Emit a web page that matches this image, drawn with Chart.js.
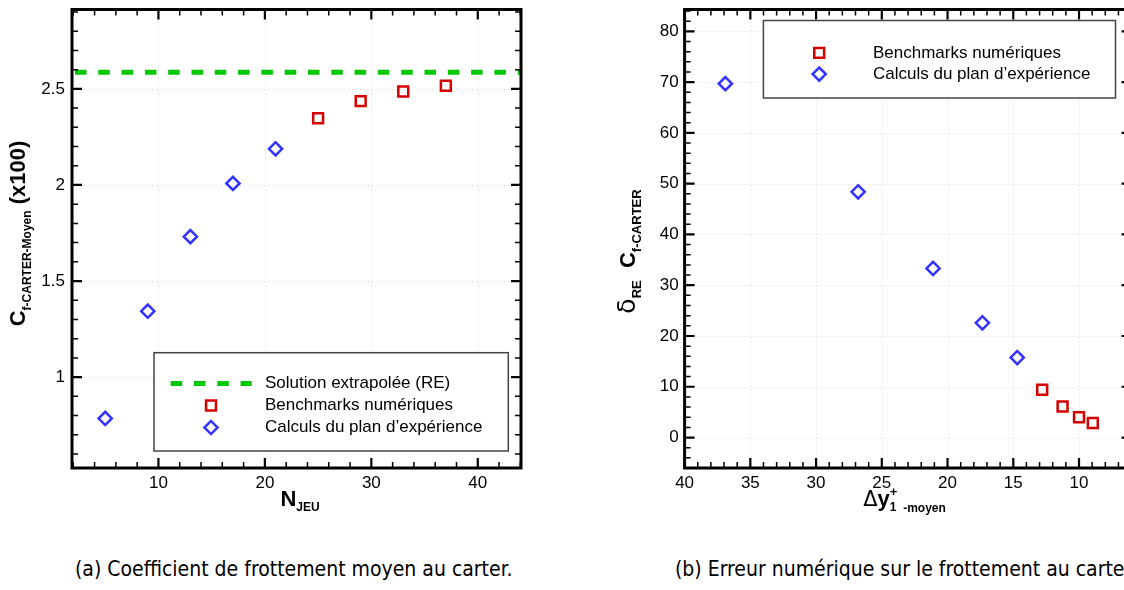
<!DOCTYPE html>
<html>
<head>
<meta charset="utf-8">
<script src="https://cdn.jsdelivr.net/npm/chart.js@4.4.1/dist/chart.umd.min.js"></script>
<style>
  html, body { margin: 0; padding: 0; background: #fff; }
  body { width: 1124px; height: 590px; overflow: hidden; position: relative; }
  canvas { position: absolute; top: 0; }
  #chartA { left: 0; }
  #chartB { left: 600px; }
  .caption { position: absolute; top: 557px; font-family: "DejaVu Sans Condensed", "Liberation Sans Narrow", "Liberation Sans", sans-serif; font-size: 21px; line-height: 25px; white-space: nowrap; color: #000; }
</style>
</head>
<body>
<canvas id="chartA" width="560" height="530"></canvas>
<canvas id="chartB" width="560" height="530"></canvas>
<div class="caption" style="left:75px">(a) Coefficient de frottement moyen au carter.</div>
<div class="caption" style="left:675px">(b) Erreur numérique sur le frottement au carter.</div>
<script>
// (a) coefficient de frottement moyen
var nJeuCalc = [5, 9, 13, 17, 21];
var cfCalc = [0.785, 1.343, 1.731, 2.008, 2.188];
var nJeuBench = [25, 29, 33, 37];
var cfBench = [2.347, 2.436, 2.486, 2.516];
var cfRE = 2.587;
var xTicksA = [10, 20, 30, 40];
var yTicksA = [1, 1.5, 2, 2.5];

// (b) erreur numerique
var dyCalc = [36.9, 26.8, 21.1, 17.35, 14.7];
var errCalc = [69.7, 48.4, 33.3, 22.6, 15.75];
var dyBench = [12.8, 11.25, 10.0, 8.95];
var errBench = [9.4, 6.1, 4.0, 2.85];
var xTicksB = [10, 15, 20, 25, 30, 35, 40];
var yTicksB = [0, 10, 20, 30, 40, 50, 60, 70, 80];

var FONT = 'Liberation Sans';
var RED = '#d40000', BLUE = '#3333ff', GREEN = '#00c800';

Chart.defaults.font.family = FONT;
Chart.defaults.font.size = 17;
Chart.defaults.color = '#000';

function toPoints(xs, ys) {
  return xs.map(function(x, i) { return {x: x, y: ys[i]}; });
}

function fixedTicks(list) {
  return function(scale) {
    scale.ticks = list.map(function(v) { return {value: v}; });
  };
}

// fixed axis size, and no extra room for the end labels
function fixedSize(size) {
  return function(s) {
    if (s.isHorizontal()) s.height = size; else s.width = size;
    s.paddingTop = s.paddingBottom = s.paddingLeft = s.paddingRight = 0;
  };
}

// dotted grid, thick frame and inward ticks on all four sides
function framePlugin(xMinor, yMinor) {
  return {
    id: 'frame',
    beforeDatasetsDraw: function(chart) {
      var ctx = chart.ctx, a = chart.chartArea, sx = chart.scales.x, sy = chart.scales.y;
      ctx.save();
      ctx.strokeStyle = '#d6d6d6';
      ctx.lineWidth = 1;
      ctx.setLineDash([1, 3]);
      sx.ticks.forEach(function(t) {
        var p = Math.round(sx.getPixelForValue(t.value)) + 0.5;
        ctx.beginPath(); ctx.moveTo(p, a.top); ctx.lineTo(p, a.bottom); ctx.stroke();
      });
      sy.ticks.forEach(function(t) {
        var p = Math.round(sy.getPixelForValue(t.value)) + 0.5;
        ctx.beginPath(); ctx.moveTo(a.left, p); ctx.lineTo(a.right, p); ctx.stroke();
      });
      ctx.restore();
    },
    afterDatasetsDraw: function(chart) {
      var ctx = chart.ctx, a = chart.chartArea, sx = chart.scales.x, sy = chart.scales.y;
      function isMajor(scale, v) {
        return scale.ticks.some(function(t) { return Math.abs(t.value - v) < 1e-6; });
      }
      ctx.save();
      ctx.strokeStyle = '#000';
      var k, v, p, len;
      for (k = Math.ceil(sx.min / xMinor - 1e-9); k * xMinor <= sx.max + 1e-9; k++) {
        v = k * xMinor;
        p = sx.getPixelForValue(v);
        len = isMajor(sx, v) ? 10 : 6;
        ctx.lineWidth = isMajor(sx, v) ? 2.2 : 1.5;
        ctx.beginPath();
        ctx.moveTo(p, a.bottom); ctx.lineTo(p, a.bottom - len);
        ctx.moveTo(p, a.top); ctx.lineTo(p, a.top + len);
        ctx.stroke();
      }
      for (k = Math.ceil(sy.min / yMinor - 1e-9); k * yMinor <= sy.max + 1e-9; k++) {
        v = k * yMinor;
        p = sy.getPixelForValue(v);
        len = isMajor(sy, v) ? 10 : 6;
        ctx.lineWidth = isMajor(sy, v) ? 2.2 : 1.5;
        ctx.beginPath();
        ctx.moveTo(a.left, p); ctx.lineTo(a.left + len, p);
        ctx.moveTo(a.right, p); ctx.lineTo(a.right - len, p);
        ctx.stroke();
      }
      ctx.lineWidth = 3;
      ctx.strokeRect(a.left, a.top, a.right - a.left, a.bottom - a.top);
      ctx.restore();
    }
  };
}

// boxed legend placed inside the plot
function legendPlugin(box) {
  return {
    id: 'boxLegend',
    afterDraw: function(chart) {
      var ctx = chart.ctx;
      ctx.save();
      ctx.fillStyle = '#fff';
      ctx.fillRect(box.x, box.y, box.w, box.h);
      ctx.strokeStyle = '#444';
      ctx.lineWidth = 1.5;
      ctx.strokeRect(box.x, box.y, box.w, box.h);
      ctx.font = '17px ' + FONT;
      ctx.textBaseline = 'middle';
      ctx.textAlign = 'left';
      chart.data.datasets.forEach(function(ds, i) {
        var y = box.row0 + i * box.rowGap;
        ctx.strokeStyle = ds.borderColor;
        ctx.lineWidth = ds.borderWidth;
        if (ds.showLine) {
          ctx.setLineDash(ds.borderDash);
          ctx.beginPath(); ctx.moveTo(box.lineX0, y); ctx.lineTo(box.lineX1, y); ctx.stroke();
          ctx.setLineDash([]);
        } else {
          ctx.fillStyle = 'rgba(0,0,0,0)';
          Chart.helpers.drawPoint(ctx, {pointStyle: ds.pointStyle, radius: ds.pointRadius, rotation: 0, borderWidth: ds.borderWidth}, box.markX, y);
        }
        ctx.fillStyle = '#000';
        ctx.fillText(ds.label, box.textX, y);
      });
      ctx.restore();
    }
  };
}

function drawRich(ctx, parts, x, y) {
  var w = 0;
  parts.forEach(function(p) {
    ctx.font = p.font;
    p.w = p.keep ? 0 : ctx.measureText(p.t).width;
    w += p.w;
  });
  var cx = x - w / 2;
  parts.forEach(function(p) {
    ctx.font = p.font;
    ctx.fillText(p.t, cx, y + (p.dy || 0));
    cx += p.w;
  });
}

function titlesPlugin(xt, yt) {
  return {
    id: 'titles',
    afterDraw: function(chart) {
      var ctx = chart.ctx;
      ctx.save();
      ctx.fillStyle = '#000';
      ctx.textBaseline = 'alphabetic';
      ctx.textAlign = 'left';
      drawRich(ctx, xt.parts, xt.x, xt.y);
      ctx.translate(yt.x, yt.y);
      ctx.rotate(-Math.PI / 2);
      drawRich(ctx, yt.parts, 0, 0);
      ctx.restore();
    }
  };
}

var B22 = 'bold 22px ' + FONT, B12 = 'bold 12px ' + FONT, B13 = 'bold 13px ' + FONT;

// Chart (a)
new Chart(document.getElementById('chartA'), {
  type: 'scatter',
  data: {
    datasets: [
      {
        label: 'Solution extrapolée (RE)',
        data: [{x: 1.88, y: cfRE}, {x: 44.06, y: cfRE}],
        showLine: true,
        borderColor: GREEN,
        borderWidth: 5,
        borderDash: [11.5, 11.8],
        borderDashOffset: 20.3,
        pointRadius: 0
      },
      {
        label: 'Benchmarks numériques',
        data: toPoints(nJeuBench, cfBench),
        pointStyle: 'rect',
        pointRadius: 7,
        borderWidth: 2.5,
        borderColor: RED,
        backgroundColor: 'rgba(0,0,0,0)'
      },
      {
        label: 'Calculs du plan d’expérience',
        data: toPoints(nJeuCalc, cfCalc),
        pointStyle: 'rectRot',
        pointRadius: 6.6,
        borderWidth: 2.5,
        borderColor: BLUE,
        backgroundColor: 'rgba(0,0,0,0)'
      }
    ]
  },
  options: {
    responsive: false,
    animation: false,
    events: [],
    layout: { padding: {left: 0, top: 7.5, right: 39, bottom: 0} },
    plugins: { legend: {display: false}, tooltip: {enabled: false} },
    scales: {
      x: {
        type: 'linear', min: 1.88, max: 44.06,
        grid: {display: false, drawTicks: false},
        border: {display: false},
        ticks: {padding: 5, callback: function(v) { return String(v); }},
        afterBuildTicks: fixedTicks(xTicksA),
        afterFit: fixedSize(62)
      },
      y: {
        type: 'linear', min: 0.527, max: 2.913,
        grid: {display: false, drawTicks: false},
        border: {display: false},
        ticks: {padding: 7, callback: function(v) { return String(v); }},
        afterBuildTicks: fixedTicks(yTicksA),
        afterFit: fixedSize(72)
      }
    }
  },
  plugins: [
    framePlugin(2, 0.1),
    legendPlugin({x: 154, y: 352.7, w: 354.3, h: 98.3, row0: 383.5, rowGap: 22, lineX0: 170.7, lineX1: 251.7, markX: 211, textX: 265}),
    titlesPlugin(
      {x: 300, y: 506, parts: [{t: 'N', font: B22}, {t: 'JEU', font: B12, dy: 5}]},
      {x: 25, y: 233.5, parts: [{t: 'C', font: B22}, {t: 'f-CARTER-Moyen', font: B12, dy: 6}, {t: ' (x100)', font: B22}]}
    )
  ]
});

// Chart (b)
new Chart(document.getElementById('chartB'), {
  type: 'scatter',
  data: {
    datasets: [
      {
        label: 'Benchmarks numériques',
        data: toPoints(dyBench, errBench),
        pointStyle: 'rect',
        pointRadius: 7,
        borderWidth: 2.5,
        borderColor: RED,
        backgroundColor: 'rgba(0,0,0,0)'
      },
      {
        label: 'Calculs du plan d’expérience',
        data: toPoints(dyCalc, errCalc),
        pointStyle: 'rectRot',
        pointRadius: 6.6,
        borderWidth: 2.5,
        borderColor: BLUE,
        backgroundColor: 'rgba(0,0,0,0)'
      }
    ]
  },
  options: {
    responsive: false,
    animation: false,
    events: [],
    layout: { padding: {left: 0, top: 8, right: 28.4, bottom: 0} },
    plugins: { legend: {display: false}, tooltip: {enabled: false} },
    scales: {
      x: {
        type: 'linear', min: 6, max: 40, reverse: true,
        grid: {display: false, drawTicks: false},
        border: {display: false},
        ticks: {padding: 5, callback: function(v) { return String(v); }},
        afterBuildTicks: fixedTicks(xTicksB),
        afterFit: fixedSize(62)
      },
      y: {
        type: 'linear', min: -6, max: 84.3,
        grid: {display: false, drawTicks: false},
        border: {display: false},
        ticks: {padding: 6, callback: function(v) { return String(v); }},
        afterBuildTicks: fixedTicks(yTicksB),
        afterFit: fixedSize(84.6)
      }
    }
  },
  plugins: [
    framePlugin(1, 2),
    legendPlugin({x: 163.4, y: 20.5, w: 352.1, h: 77.5, row0: 52.9, rowGap: 21.2, markX: 219.2, textX: 273}),
    titlesPlugin(
      {x: 304.5, y: 506, parts: [
        {t: 'Δ', font: '21px DejaVu Sans'},
        {t: 'y', font: B22},
        {t: '+', font: B13, dy: -10, keep: true},
        {t: '1', font: B12, dy: 5},
        {t: '  -moyen', font: B12, dy: 6}
      ]},
      {x: 35, y: 251.5, parts: [
        {t: 'δ', font: '25px DejaVu Sans'},
        {t: 'RE', font: B13, dy: 6},
        {t: '  C', font: B22},
        {t: 'f-CARTER', font: B13, dy: 6}
      ]}
    )
  ]
});
</script>
</body>
</html>
